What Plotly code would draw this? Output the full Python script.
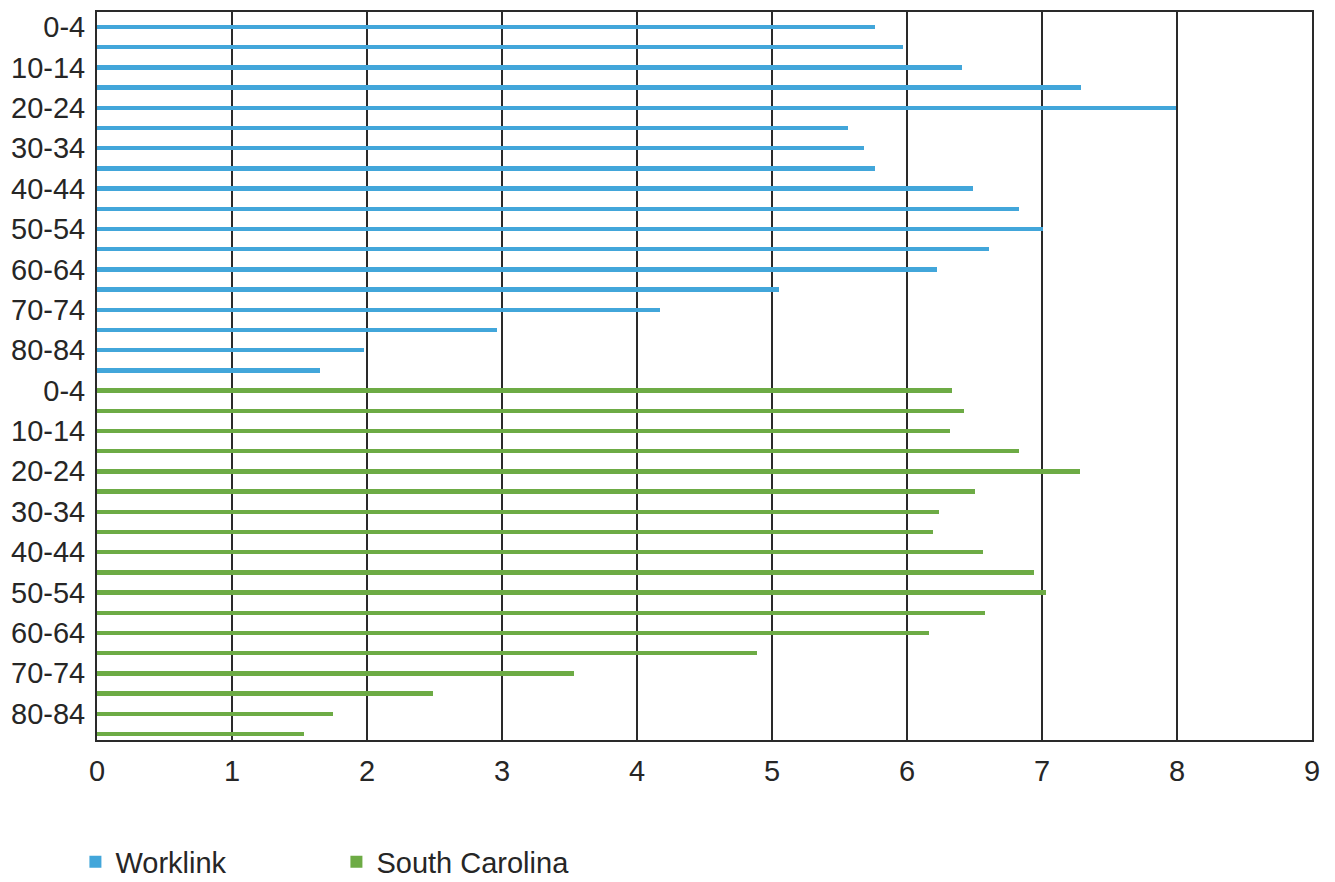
import plotly.graph_objects as go

age_groups = ["0-4", "5-9", "10-14", "15-19", "20-24", "25-29", "30-34", "35-39",
              "40-44", "45-49", "50-54", "55-59", "60-64", "65-69", "70-74",
              "75-79", "80-84", "85+"]

worklink = [5.76, 5.97, 6.41, 7.29, 7.99, 5.56, 5.68, 5.76, 6.49, 6.83,
            7.01, 6.61, 6.22, 5.05, 4.17, 2.96, 1.98, 1.65]

south_carolina = [6.33, 6.42, 6.32, 6.83, 7.28, 6.50, 6.24, 6.19, 6.56, 6.94,
                  7.03, 6.58, 6.16, 4.89, 3.53, 2.49, 1.75, 1.53]

x_ticks = list(range(0, 10))

n = len(age_groups)
pos_worklink = list(range(n))
pos_sc = [n + i for i in range(n)]

tick_positions = [i for i in range(2 * n) if (i % n) % 2 == 0]
tick_labels = [age_groups[i % n] for i in tick_positions]

fig = go.Figure()
fig.add_trace(go.Bar(
    name="Worklink", y=pos_worklink, x=worklink, orientation="h",
    marker=dict(color="#42A6DA", line=dict(width=0)), width=0.22,
))
fig.add_trace(go.Bar(
    name="South Carolina", y=pos_sc, x=south_carolina, orientation="h",
    marker=dict(color="#6DAB45", line=dict(width=0)), width=0.22,
))

fig.update_layout(
    width=1335, height=882,
    margin=dict(l=89, r=31, t=4, b=150, autoexpand=False),
    paper_bgcolor="white", plot_bgcolor="white",
    font=dict(family="Liberation Sans, Arial, sans-serif", size=29, color="#262626"),
    showlegend=True,
    legend=dict(
        orientation="h", xref="container", yref="container",
        x=0.0505, y=0.032, xanchor="left", yanchor="middle",
        font=dict(size=29, color="#262626"),
        entrywidth=216, entrywidthmode="pixels",
        traceorder="normal",
    ),
    bargap=0,
)

fig.update_xaxes(
    range=[0, 9], tickvals=x_ticks, ticktext=[str(v) for v in x_ticks],
    showgrid=True, gridcolor="#2a2a2a", gridwidth=2,
    showline=True, linecolor="#2a2a2a", linewidth=2, mirror=True,
    zeroline=False, ticks="", ticklabelstandoff=4, automargin=False,
    tickfont=dict(size=29),
)
fig.update_yaxes(
    range=[35.3, -0.74], tickvals=tick_positions, ticktext=tick_labels,
    showgrid=False, showline=True, linecolor="#2a2a2a", linewidth=2, mirror=True,
    zeroline=False, ticks="", ticklabelstandoff=4, automargin=False,
    tickfont=dict(size=29),
)

fig.write_html("out.html")
